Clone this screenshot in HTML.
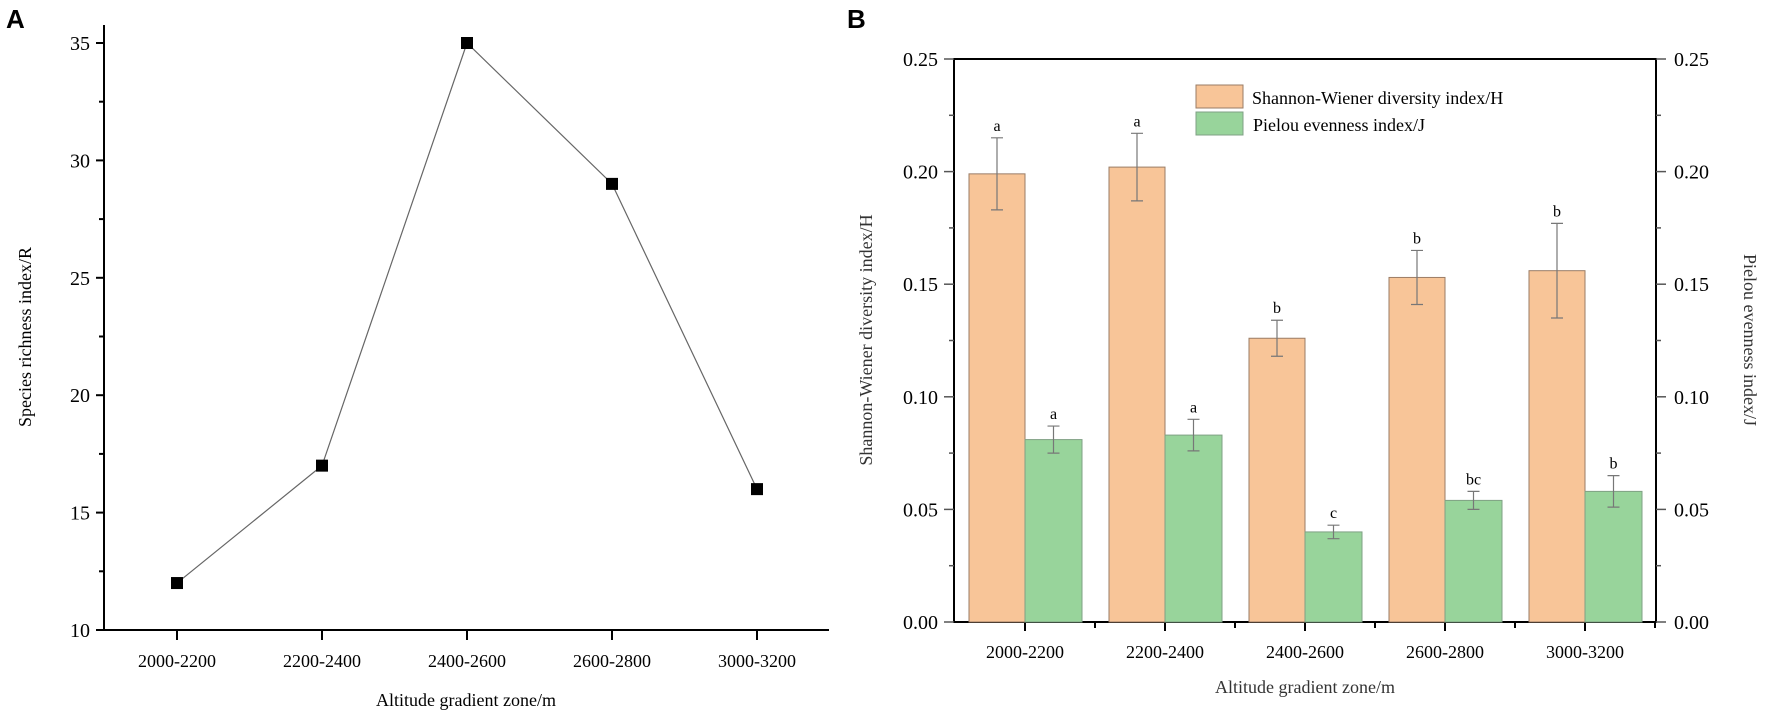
<!DOCTYPE html>
<html><head><meta charset="utf-8"><style>
body{margin:0;background:#fff;}
svg{display:block;font-family:"Liberation Serif",serif;}
.pl{font-family:"Liberation Sans",sans-serif;font-weight:bold;font-size:26px;}
</style></head><body>
<svg id="chart" width="1772" height="717" viewBox="0 0 1772 717">
<text class="pl" x="6" y="28">A</text>
<text class="pl" x="847" y="28">B</text>
<g id="ga"></g>
<g id="gb"></g>
</svg>
<script>
const categories=["2000-2200","2200-2400","2400-2600","2600-2800","3000-3200"];
const richness=[12,17,35,29,16];
const richTicks=[10,15,20,25,30,35];
const shannon=[0.199,0.202,0.126,0.153,0.156];
const shannonErr=[0.016,0.015,0.008,0.012,0.021];
const shannonLetters=["a","a","b","b","b"];
const pielou=[0.081,0.083,0.040,0.054,0.058];
const pielouErr=[0.006,0.007,0.003,0.004,0.007];
const pielouLetters=["a","a","c","bc","b"];
const divTicks=[0,0.05,0.10,0.15,0.20,0.25];

const NS="http://www.w3.org/2000/svg";
function mk(p,t,a,txt){const e=document.createElementNS(NS,t);for(const k in a)e.setAttribute(k,a[k]);if(txt!==undefined)e.textContent=txt;p.appendChild(e);return e;}

// Panel A
const ga=document.getElementById('ga');
const ax0=104,ax1=829,ay0=630,ay1=43;
const yA=v=>ay0-(v-10)/(35-10)*(ay0-ay1);
const xA=i=>177+i*145;
let e;
e=mk(ga,'line',{x1:ax0,y1:25,x2:ax0,y2:ay0,stroke:'#000','stroke-width':2});

e=mk(ga,'line',{x1:ax0-8,y1:ay0,x2:ax1,y2:ay0,stroke:'#000','stroke-width':2});

richTicks.forEach((t,i)=>{
  mk(ga,'line',{x1:ax0-8,y1:yA(t),x2:ax0,y2:yA(t),stroke:'#000','stroke-width':2});
  if(i<richTicks.length-1) mk(ga,'line',{x1:ax0-5,y1:yA(t+2.5),x2:ax0,y2:yA(t+2.5),stroke:'#000','stroke-width':2});
  e=mk(ga,'text',{x:ax0-14,y:yA(t)+7,'text-anchor':'end','font-size':20},t);
  
});
categories.forEach((c,i)=>{
  mk(ga,'line',{x1:xA(i),y1:ay0,x2:xA(i),y2:ay0+10,stroke:'#000','stroke-width':2});
  e=mk(ga,'text',{x:xA(i),y:667,'text-anchor':'middle','font-size':18},c);
  
});
e=mk(ga,'polyline',{points:richness.map((v,i)=>xA(i)+','+yA(v)).join(' '),fill:'none',stroke:'#666','stroke-width':1.2});

richness.forEach((v,i)=>{
  e=mk(ga,'rect',{x:xA(i)-6,y:yA(v)-6,width:12,height:12,fill:'#000'});
  
});
e=mk(ga,'text',{x:466,y:706,'text-anchor':'middle','font-size':18},'Altitude gradient zone/m');

e=mk(ga,'text',{x:0,y:0,'text-anchor':'middle','font-size':18,transform:'translate(31,337) rotate(-90)'},'Species richness index/R');


// Panel B
const gb=document.getElementById('gb');
const bx0=954,bx1=1656,by0=622,by1=59;
const yB=v=>by0-v/0.25*(by0-by1);
const xB=i=>1025+i*140;
e=mk(gb,'rect',{x:bx0,y:by1,width:bx1-bx0,height:by0-by1,fill:'none',stroke:'#000','stroke-width':2});

divTicks.forEach((t,i)=>{
  mk(gb,'line',{x1:bx0-10,y1:yB(t),x2:bx0,y2:yB(t),stroke:'#555','stroke-width':1.5});
  mk(gb,'line',{x1:bx1,y1:yB(t),x2:bx1+10,y2:yB(t),stroke:'#555','stroke-width':1.5});
  if(i<divTicks.length-1){
    mk(gb,'line',{x1:bx0-5,y1:yB(t+0.025),x2:bx0,y2:yB(t+0.025),stroke:'#555','stroke-width':1.5});
    mk(gb,'line',{x1:bx1,y1:yB(t+0.025),x2:bx1+5,y2:yB(t+0.025),stroke:'#555','stroke-width':1.5});
  }
  e=mk(gb,'text',{x:938,y:yB(t)+7,'text-anchor':'end','font-size':20},t.toFixed(2));
  
  e=mk(gb,'text',{x:1674,y:yB(t)+7,'font-size':20},t.toFixed(2));
  
});
categories.forEach((c,i)=>{
  const cx=xB(i);
  mk(gb,'line',{x1:cx,y1:by0,x2:cx,y2:by0+9,stroke:'#000','stroke-width':2});
  mk(gb,'line',{x1:cx+70,y1:by0,x2:cx+70,y2:by0+6,stroke:'#000','stroke-width':2});
  e=mk(gb,'text',{x:cx,y:658,'text-anchor':'middle','font-size':18},c);
  
  e=mk(gb,'rect',{x:cx-56,y:yB(shannon[i]),width:56,height:by0-yB(shannon[i]),fill:'#f8c598',stroke:'#9a7c66','stroke-width':1});
  
  e=mk(gb,'rect',{x:cx,y:yB(pielou[i]),width:57,height:by0-yB(pielou[i]),fill:'#98d49b',stroke:'#7fa084','stroke-width':1});
  
  [[cx-28,shannon[i],shannonErr[i],shannonLetters[i],'shannon'],[cx+28.5,pielou[i],pielouErr[i],pielouLetters[i],'pielou']].forEach(([x,v,er,l,n])=>{
    const t=yB(v+er),b=yB(v-er);
    e=mk(gb,'path',{d:`M${x},${t}V${b}M${x-6},${t}H${x+6}M${x-6},${b}H${x+6}`,stroke:'#777','stroke-width':1.2,fill:'none'});
    
    e=mk(gb,'text',{x:x,y:t-7,'text-anchor':'middle','font-size':16},l);
    
  });
});
e=mk(gb,'rect',{x:1196,y:85,width:47,height:23,fill:'#f8c598',stroke:'#9a7c66'});

e=mk(gb,'rect',{x:1196,y:112,width:47,height:23,fill:'#98d49b',stroke:'#7fa084'});

e=mk(gb,'text',{x:1252,y:104,'font-size':18},'Shannon-Wiener diversity index/H');

e=mk(gb,'text',{x:1253,y:131,'font-size':18},'Pielou evenness index/J');

e=mk(gb,'text',{x:1305,y:693,'text-anchor':'middle','font-size':18,fill:'#333'},'Altitude gradient zone/m');

e=mk(gb,'text',{x:0,y:0,'text-anchor':'middle','font-size':18,fill:'#333',transform:'translate(872,340) rotate(-90)'},'Shannon-Wiener diversity index/H');

e=mk(gb,'text',{x:0,y:0,'text-anchor':'middle','font-size':18,fill:'#333',transform:'translate(1744,340) rotate(90)'},'Pielou evenness index/J');

</script>
</body></html>
